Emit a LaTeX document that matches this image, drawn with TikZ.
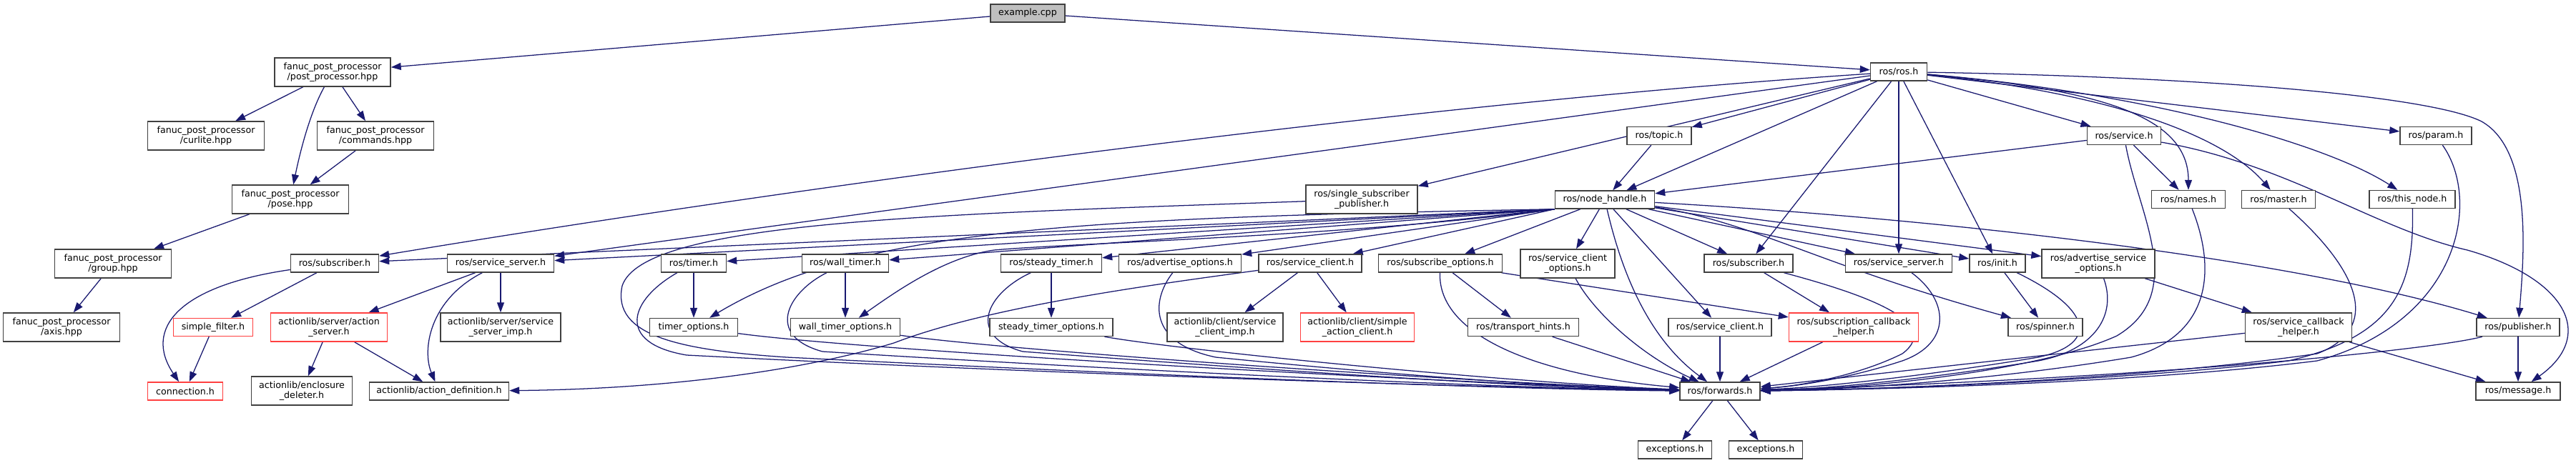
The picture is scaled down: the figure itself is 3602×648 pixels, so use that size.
\documentclass[tikz,border=0pt]{standalone}
\usepackage{fontspec}
\setmainfont{DejaVu Sans}
\usetikzlibrary{arrows.meta}
\definecolor{edgeblue}{RGB}{25,25,112}
\definecolor{nodegray}{RGB}{64,64,64}
\definecolor{nodered}{RGB}{255,64,64}
\definecolor{exgray}{RGB}{191,191,191}
\pgfdeclarelayer{edges}
\pgfsetlayers{edges,main}
\tikzset{
 nb/.style={draw=nodegray, line width=1.1pt, fill=white, inner sep=0pt, minimum height=18.75pt, align=center, font=\fontsize{9.5}{10.5}\selectfont},
 two/.style={minimum height=30pt},
 rb/.style={draw=nodered},
 e/.style={draw=edgeblue, line width=0.95pt, -{Triangle[length=10.5pt,width=7.5pt]}}
}
\begin{document}
\begin{tikzpicture}[x=0.75pt,y=-0.75pt]
\useasboundingbox (0,0) rectangle (3602,648);
% nodes
\node[nb, fill=exgray, minimum width=78pt] (ex) at (1437,18.5) {example.cpp};
\node[nb, two, minimum width=121.5pt] (pp) at (465,101) {fanuc\_post\_processor\\/post\_processor.hpp};
\node[nb, minimum width=59.25pt] (ros) at (2655,100.5) {ros/ros.h};
\node[nb, two, minimum width=122.25pt] (cur) at (288,190) {fanuc\_post\_processor\\/curlite.hpp};
\node[nb, two, minimum width=122.25pt] (cmd) at (525,190) {fanuc\_post\_processor\\/commands.hpp};
\node[nb, two, minimum width=122.25pt] (pose) at (406,279) {fanuc\_post\_processor\\/pose.hpp};
\node[nb, two, minimum width=122.25pt] (grp) at (158,369) {fanuc\_post\_processor\\/group.hpp};
\node[nb, two, minimum width=122.25pt] (axis) at (86,458) {fanuc\_post\_processor\\/axis.hpp};
\node[nb, minimum width=67.5pt] (topic) at (2320,190) {ros/topic.h};
\node[nb, minimum width=77.25pt] (svc) at (2970,190) {ros/service.h};
\node[nb, minimum width=75pt] (param) at (3406,190) {ros/param.h};
\node[nb, two, minimum width=117pt] (ssp) at (1904,279) {ros/single\_subscriber\\\_publisher.h};
\node[nb, minimum width=104.25pt] (nh) at (2244,279.5) {ros/node\_handle.h};
\node[nb, minimum width=77.25pt] (names) at (3060,279) {ros/names.h};
\node[nb, minimum width=77.25pt] (master) at (3186,279) {ros/master.h};
\node[nb, minimum width=90pt] (tn) at (3373,279) {ros/this\_node.h};
\node[nb, minimum width=92.25pt] (subL) at (468,368.5) {ros/subscriber.h};
\node[nb, minimum width=111.75pt] (ssL) at (700,368.5) {ros/service\_server.h};
\node[nb, minimum width=68.25pt] (timer) at (970,368.5) {ros/timer.h};
\node[nb, minimum width=90.75pt] (wt) at (1182,368.5) {ros/wall\_timer.h};
\node[nb, minimum width=105.75pt] (st) at (1470,368.5) {ros/steady\_timer.h};
\node[nb, minimum width=128.25pt] (ao) at (1650,368.5) {ros/advertise\_options.h};
\node[nb, minimum width=108pt] (scL) at (1832,368.5) {ros/service\_client.h};
\node[nb, minimum width=129.75pt] (so) at (2014,368.5) {ros/subscribe\_options.h};
\node[nb, two, minimum width=99pt] (sco) at (2192,369) {ros/service\_client\\\_options.h};
\node[nb, minimum width=93pt] (subR) at (2445,368.5) {ros/subscriber.h};
\node[nb, minimum width=111.75pt] (ssR) at (2655,368.5) {ros/service\_server.h};
\node[nb, minimum width=58.5pt] (init) at (2793,368.5) {ros/init.h};
\node[nb, two, minimum width=118.5pt] (aso) at (2934,369) {ros/advertise\_service\\\_options.h};
\node[nb, rb, minimum width=83.25pt] (sf) at (298,458) {simple\_filter.h};
\node[nb, rb, two, minimum width=122.25pt] (as) at (460,458) {actionlib/server/action\\\_server.h};
\node[nb, two, minimum width=126pt] (ssimp) at (700,458) {actionlib/server/service\\\_server\_imp.h};
\node[nb, minimum width=92.25pt] (topt) at (970,458) {timer\_options.h};
\node[nb, minimum width=114.75pt] (wto) at (1182,458) {wall\_timer\_options.h};
\node[nb, minimum width=129pt] (sto) at (1470,458) {steady\_timer\_options.h};
\node[nb, two, minimum width=121.5pt] (scimp) at (1713,458) {actionlib/client/service\\\_client\_imp.h};
\node[nb, rb, two, minimum width=119.25pt] (sac) at (1898,458) {actionlib/client/simple\\\_action\_client.h};
\node[nb, minimum width=116.25pt] (th) at (2130,458) {ros/transport\_hints.h};
\node[nb, minimum width=108pt] (scR) at (2405,458) {ros/service\_client.h};
\node[nb, rb, two, minimum width=135.75pt] (sch) at (2592,458) {ros/subscription\_callback\\\_helper.h};
\node[nb, minimum width=78pt] (spin) at (2860,458) {ros/spinner.h};
\node[nb, two, minimum width=111.75pt] (svch) at (3214,458) {ros/service\_callback\\\_helper.h};
\node[nb, minimum width=87pt] (pub) at (3521,458) {ros/publisher.h};
\node[nb, rb, minimum width=78.75pt] (conn) at (259,547.5) {connection.h};
\node[nb, two, minimum width=105.75pt] (encl) at (422,547) {actionlib/enclosure\\\_deleter.h};
\node[nb, minimum width=146.25pt] (adef) at (614,547.5) {actionlib/action\_definition.h};
\node[nb, minimum width=84pt] (fw) at (2405,547.5) {ros/forwards.h};
\node[nb, minimum width=88.5pt] (msg) at (3521,547.5) {ros/message.h};
\node[nb, minimum width=77.25pt] (ex1) at (2342,629.5) {exceptions.h};
\node[nb, minimum width=77.25pt] (ex2) at (2469,629.5) {exceptions.h};
\begin{pgfonlayer}{edges}
\fill[white] (0,0) rectangle (3602,648);
% fanuc part
\draw[e] (ex) -- (pp);
\draw[e] (ex) -- (ros);
\draw[e] (pp) -- (cur);
\draw[e] (pp) .. controls (432,160) and (418,220) .. (pose);
\draw[e] (pp) -- (cmd);
\draw[e] (cmd) -- (pose);
\draw[e] (pose) -- (grp);
\draw[e] (grp) -- (axis);
% ros.h
\draw[e] (ros) .. controls (1900,150) and (1000,280) .. (subL);
\draw[e] (ros) -- (ssL);
\draw[e] (ros) -- (ssp);
\draw[e] (ros) -- (topic);
\draw[e] (ros) -- (nh);
\draw[e] (ros) -- (svc);
\draw[e] (ros) -- (param);
\draw[e] (ros) .. controls (2930,125) and (3060,160) .. (names);
\draw[e] (ros) .. controls (2950,130) and (3110,190) .. (master);
\draw[e] (ros) .. controls (3000,130) and (3250,200) .. (tn);
\draw[e] (ros) .. controls (3100,108) and (3400,135) .. (3470,170) .. controls (3540,210) and (3530,350) .. (pub);
\draw[e] (ros) -- (subR);
\draw[e] (ros) -- (ssR);
\draw[e] (ros) -- (init);
% topic, service
\draw[e] (topic) -- (nh);
\draw[e] (svc) -- (nh);
\draw[e] (svc) -- (names);
\draw[e] (svc) .. controls (3200,230) and (3320,320) .. (3450,350) .. controls (3590,390) and (3630,470) .. (msg);
\draw[e] (svc) .. controls (2990,300) and (3060,410) .. (2960,470) .. controls (2850,520) and (2600,545) .. (fw);
\draw[e] (names) .. controls (3100,380) and (3090,470) .. (2980,500) .. controls (2800,530) and (2600,545) .. (fw);
\draw[e] (master) .. controls (3300,380) and (3330,460) .. (3240,495) .. controls (3000,530) and (2650,545) .. (fw);
\draw[e] (tn) .. controls (3376,400) and (3350,470) .. (3200,505) .. controls (3000,530) and (2650,545) .. (fw);
\draw[e] (param) .. controls (3470,280) and (3440,450) .. (3240,505) .. controls (3000,535) and (2650,545) .. (fw);
\draw[e] (pub) -- (msg);
\draw[e] (pub) .. controls (3400,490) and (3000,530) .. (fw);
\draw[e] (aso) -- (svch);
\draw[e] (aso) .. controls (2960,440) and (2930,490) .. (2850,505) .. controls (2700,530) and (2550,545) .. (fw);
\draw[e] (svch) -- (fw);
\draw[e] (svch) -- (msg);
\draw[e] (init) .. controls (2920,430) and (2940,480) .. (2850,500) .. controls (2700,525) and (2550,542) .. (fw);
\draw[e] (init) -- (spin);
\draw[e] (ssR) .. controls (2725,420) and (2730,480) .. (2660,505) .. controls (2590,528) and (2520,540) .. (fw);
\draw[e] (subR) .. controls (2600,410) and (2720,450) .. (2660,495) .. controls (2600,525) and (2520,540) .. (fw);
\draw[e] (subR) -- (sch);
\draw[e] (sch) -- (fw);
% node_handle
\draw[e] (nh.south west) -- (subL);
\draw[e] (nh.south west) -- (ssL);
\draw[e] (nh.south west) -- (timer);
\draw[e] (nh.south west) .. controls (1500,305) and (1200,320) .. (topt);
\draw[e] (nh.south west) -- (wt);
\draw[e] (nh.south west) .. controls (1900,330) and (1500,340) .. (1390,350) .. controls (1320,360) and (1250,410) .. (wto);
\draw[e] (nh.south west) -- (st);
\draw[e] (nh.south west) -- (ao);
\draw[e] (nh.south west) -- (scL);
\draw[e] (nh) -- (so);
\draw[e] (nh) -- (sco);
\draw[e] (nh) .. controls (2265,370) and (2300,470) .. (fw);
\draw[e] (nh) -- (scR);
\draw[e] (nh) -- (subR);
\draw[e] (nh) -- (ssR);
\draw[e] (nh) -- (init);
\draw[e] (nh) -- (aso);
\draw[e] (nh) .. controls (2450,310) and (2540,370) .. (spin);
\draw[e] (nh) .. controls (2700,305) and (3200,360) .. (pub);
% left side into forwards
\draw[e] (ssp) .. controls (1300,300) and (900,310) .. (870,400) .. controls (855,470) and (950,490) .. (1100,500) .. controls (1600,525) and (2100,545) .. (fw);
\draw[e] (timer) .. controls (880,420) and (860,480) .. (960,497) .. controls (1500,525) and (2100,543) .. (fw);
\draw[e] (timer) -- (topt);
\draw[e] (wt) .. controls (1100,410) and (1070,470) .. (1150,492) .. controls (1600,520) and (2100,543) .. (fw);
\draw[e] (wt) -- (wto);
\draw[e] (st) .. controls (1380,410) and (1350,470) .. (1430,492) .. controls (1800,520) and (2150,543) .. (fw);
\draw[e] (st) -- (sto);
\draw[e] (ao) .. controls (1610,420) and (1605,480) .. (1700,500) .. controls (1950,525) and (2200,543) .. (fw);
\draw[e] (topt) .. controls (1200,490) and (2000,535) .. (fw);
\draw[e] (wto) .. controls (1400,490) and (2050,535) .. (fw);
\draw[e] (sto) .. controls (1650,490) and (2100,535) .. (fw);
\draw[e] (so) .. controls (2010,470) and (2150,525) .. (fw);
\draw[e] (so) -- (th);
\draw[e] (so) -- (sch);
\draw[e] (sco) .. controls (2230,440) and (2300,500) .. (fw);
\draw[e] (th) -- (fw);
\draw[e] (scR) -- (fw);
% service_client (left)
\draw[e] (scL) .. controls (1600,400) and (1380,430) .. (1250,480) .. controls (1100,525) and (900,545) .. (adef);
\draw[e] (scL) -- (scimp);
\draw[e] (scL) -- (sac);
% service_server (left)
\draw[e] (ssL) -- (as);
\draw[e] (ssL) -- (ssimp);
\draw[e] (ssL) .. controls (600,420) and (590,490) .. (adef);
\draw[e] (as) -- (encl);
\draw[e] (as) -- (adef);
% subscriber (left)
\draw[e] (subL) -- (sf);
\draw[e] (subL) .. controls (250,400) and (200,460) .. (conn);
\draw[e] (sf) -- (conn);
% forwards
\draw[e] (fw) -- (ex1);
\draw[e] (fw) -- (ex2);
\end{pgfonlayer}
\end{tikzpicture}
\end{document}
